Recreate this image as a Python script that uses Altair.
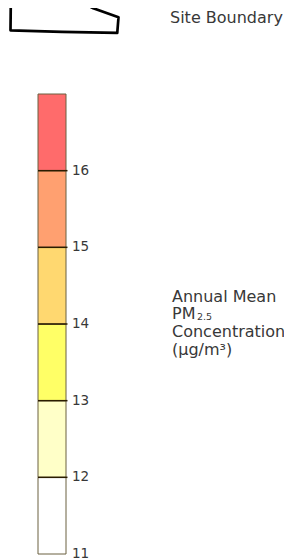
import altair as alt
import pandas as pd

# ---- data ----
band_breaks = [11, 12, 13, 14, 15, 16, 17]
band_colors = ["#ffffff", "#ffffc8", "#ffff66", "#ffd870", "#ffa070", "#ff6b6b"]
tick_values = [11, 12, 13, 14, 15, 16]
tick_labels = ["11", "12", "13", "14", "15", "16"]
divider_values = [12, 13, 14, 15, 16]
boundary_text = ["Site Boundary"]
title_lines = ["Annual Mean", "PM", "Concentration", "(µg/m³)"]
title_sub = ["2.5"]

FONT = "DejaVu Sans"
TEXT_COLOR = "#383838"

bands = pd.DataFrame({"lo": band_breaks[:-1], "hi": band_breaks[1:], "color": band_colors})
ticks = pd.DataFrame({"value": tick_values, "label": tick_labels})
dividers = pd.DataFrame({"value": divider_values})

yscale = alt.Scale(domain=[11, 17], range=[546, 86])

bar = alt.Chart(bands).mark_rect(stroke="#6b6040", strokeWidth=1).encode(
    y=alt.Y("lo:Q", scale=yscale, axis=None),
    y2="hi:Q",
    x=alt.value(30), x2=alt.value(58),
    fill=alt.Fill("color:N", scale=None),
)
div = alt.Chart(dividers).mark_rule(color="#2a1c00", strokeWidth=1.5).encode(
    y=alt.Y("value:Q", scale=yscale, axis=None),
    x=alt.value(30), x2=alt.value(59.5),
)
labels = alt.Chart(ticks).mark_text(
    align="left", baseline="middle", font=FONT, fontSize=13.5, color=TEXT_COLOR
).encode(
    y=alt.Y("value:Q", scale=yscale, axis=None),
    x=alt.value(64),
    text="label:N",
)

boundary_path = ("M-0.995,-0.207L-0.225,-0.297L-0.081,-0.315L0.076,-0.297L0.315,-0.238"
                 "L0.459,-0.189L0.532,-0.153L1.0,0.014L0.977,0.303L-0.045,0.285L-1.0,0.256Z")
boundary = alt.Chart(pd.DataFrame({"k": [0]})).mark_point(
    shape=boundary_path, size=11664, filled=False, stroke="black",
    strokeWidth=2.7, strokeJoin="round", opacity=1
).encode(x=alt.value(56.5), y=alt.value(8.5))

def text_mark(txt, x, y, size=16):
    return alt.Chart(pd.DataFrame({"t": [txt]})).mark_text(
        align="left", baseline="alphabetic", font=FONT, fontSize=size, color=TEXT_COLOR
    ).encode(x=alt.value(x), y=alt.value(y), text="t:N")

site = text_mark(boundary_text[0], 162, 14.5)
t1 = text_mark(title_lines[0], 164, 293.5)
t2 = text_mark(title_lines[1], 164, 311)
t2s = text_mark(title_sub[0], 189, 312, size=9.5)
t3 = text_mark(title_lines[2], 164, 329)
t4 = text_mark(title_lines[3], 164, 347)

chart = alt.layer(bar, div, labels, boundary, site, t1, t2, t2s, t3, t4).properties(
    width=276, height=552, autosize=alt.AutoSizeParams(type="none"), padding=0
).configure_view(stroke=None)

chart.save("out.html", embed_options={"renderer": "svg", "actions": False})
